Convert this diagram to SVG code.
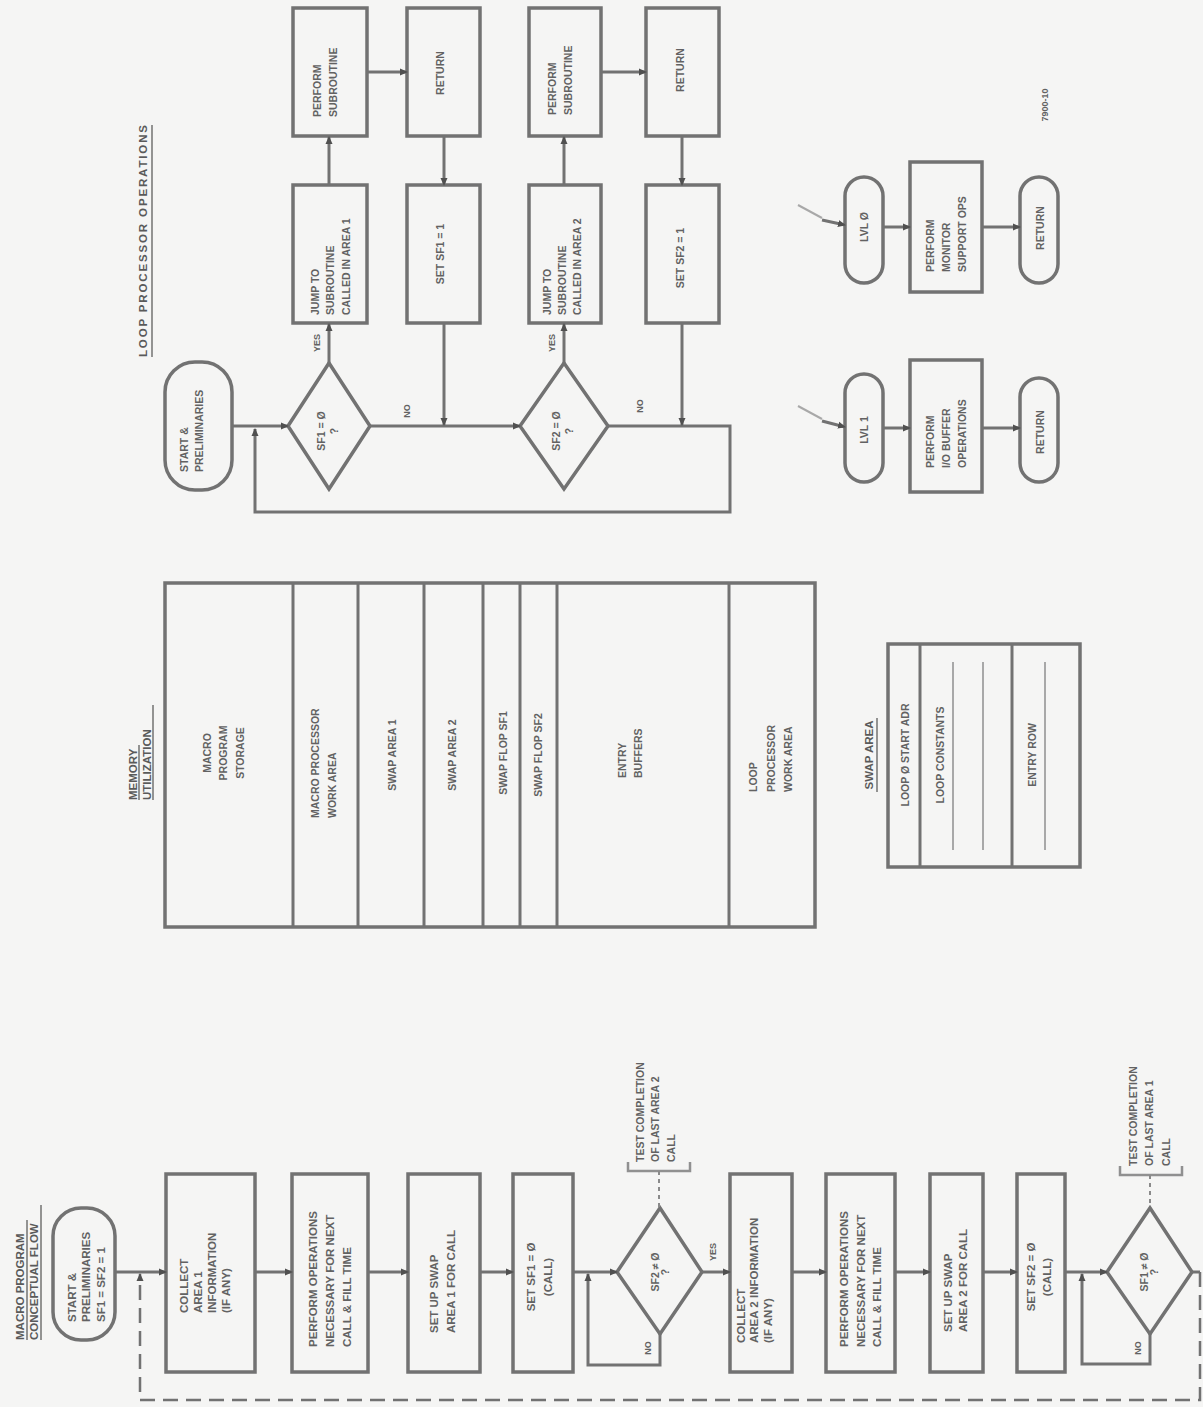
<svg xmlns="http://www.w3.org/2000/svg" width="1203" height="1407" viewBox="0 0 1203 1407">
<defs>
<marker id="ah" markerWidth="8" markerHeight="8" refX="7" refY="4" orient="auto" markerUnits="userSpaceOnUse"><path d="M0,0.5 L8,4 L0,7.5 z" fill="#505050"/></marker>
<style>
.bx{fill:none;stroke:#727272;stroke-width:3.5}
.ln{fill:none;stroke:#727272;stroke-width:3}
.th{fill:none;stroke:#a8a8a8;stroke-width:2}
.ds{fill:none;stroke:#727272;stroke-width:2.5;stroke-dasharray:15 8}
.dt{fill:none;stroke:#8a8a8a;stroke-width:2;stroke-dasharray:4 4}
.t{font-family:"Liberation Sans",Arial,sans-serif;font-size:11.5px;font-weight:bold;fill:#626262}
.s{font-size:10.5px}
.m{text-anchor:middle}
.lb{font-size:9px}
.ti{font-size:11.5px;fill:#5a5a5a}
.ul{stroke:#727272;stroke-width:1.5}
</style>
</defs>
<rect x="0" y="0" width="1203" height="1407" fill="#f5f5f4"/>

<!-- ===== LOOP PROCESSOR OPERATIONS ===== -->
<g id="title-loop">
<text class="t ti" transform="translate(147,357) rotate(-90)" textLength="232">LOOP PROCESSOR OPERATIONS</text>
<line class="ul" x1="152" y1="357" x2="152" y2="125"/>
</g>
<g id="lp-start"><rect class="bx" x="165" y="362" width="67" height="128" rx="30"/>
<text class="t s" transform="translate(187.5,472) rotate(-90)"><tspan x="0" y="0">START &amp;</tspan><tspan x="0" y="15">PRELIMINARIES</tspan></text></g>
<g id="lp-d1"><polygon class="bx" points="288,426 329,363 370,426 329,489"/>
<text class="t s m" transform="translate(325,431) rotate(-90)"><tspan x="0" y="0">SF1 = Ø</tspan><tspan x="0" y="13">?</tspan></text>
<text class="t lb m" transform="translate(320,343) rotate(-90)">YES</text>
<text class="t lb m" transform="translate(410,411) rotate(-90)">NO</text></g>
<g id="lp-jump1"><rect class="bx" x="293" y="185" width="74" height="138"/>
<text class="t s" transform="translate(319,315) rotate(-90)"><tspan x="0" y="0">JUMP TO</tspan><tspan x="0" y="15">SUBROUTINE</tspan><tspan x="0" y="31">CALLED IN AREA 1</tspan></text></g>
<g id="lp-perf1"><rect class="bx" x="293" y="8" width="74" height="128"/>
<text class="t s" transform="translate(321,117) rotate(-90)"><tspan x="0" y="0">PERFORM</tspan><tspan x="0" y="16">SUBROUTINE</tspan></text></g>
<g id="lp-ret1"><rect class="bx" x="407" y="8" width="73" height="128"/>
<text class="t s m" transform="translate(444,73) rotate(-90)">RETURN</text></g>
<g id="lp-set1"><rect class="bx" x="407" y="185" width="73" height="138"/>
<text class="t s m" transform="translate(444,254) rotate(-90)">SET SF1 = 1</text></g>

<g id="lp-d2"><polygon class="bx" points="520,426 564,363 608,426 564,489"/>
<text class="t s m" transform="translate(560,431) rotate(-90)"><tspan x="0" y="0">SF2 = Ø</tspan><tspan x="0" y="13">?</tspan></text>
<text class="t lb m" transform="translate(555,343) rotate(-90)">YES</text>
<text class="t lb m" transform="translate(643,406) rotate(-90)">NO</text></g>
<g id="lp-jump2"><rect class="bx" x="529" y="185" width="72" height="138"/>
<text class="t s" transform="translate(551,315) rotate(-90)"><tspan x="0" y="0">JUMP TO</tspan><tspan x="0" y="15">SUBROUTINE</tspan><tspan x="0" y="30">CALLED IN AREA 2</tspan></text></g>
<g id="lp-perf2"><rect class="bx" x="529" y="8" width="72" height="128"/>
<text class="t s" transform="translate(556,115) rotate(-90)"><tspan x="0" y="0">PERFORM</tspan><tspan x="0" y="16">SUBROUTINE</tspan></text></g>
<g id="lp-ret2"><rect class="bx" x="646" y="8" width="73" height="128"/>
<text class="t s m" transform="translate(684,70) rotate(-90)">RETURN</text></g>
<g id="lp-set2"><rect class="bx" x="646" y="185" width="73" height="138"/>
<text class="t s m" transform="translate(684,258) rotate(-90)">SET SF2 = 1</text></g>

<g id="lvl0"><rect class="bx" x="845" y="177" width="38" height="106" rx="19"/>
<text class="t s m" transform="translate(868,227) rotate(-90)">LVL Ø</text></g>
<g id="monitor"><rect class="bx" x="910" y="162" width="72" height="130"/>
<text class="t s" transform="translate(934,272) rotate(-90)"><tspan x="0" y="0">PERFORM</tspan><tspan x="0" y="16">MONITOR</tspan><tspan x="0" y="32">SUPPORT OPS</tspan></text></g>
<g id="ret-a"><rect class="bx" x="1020" y="177" width="38" height="106" rx="19"/>
<text class="t s m" transform="translate(1044,228) rotate(-90)">RETURN</text></g>
<g id="lvl1"><rect class="bx" x="845" y="374" width="38" height="108" rx="19"/>
<text class="t s m" transform="translate(868,430) rotate(-90)">LVL 1</text></g>
<g id="iobuf"><rect class="bx" x="910" y="360" width="72" height="132"/>
<text class="t s" transform="translate(934,468) rotate(-90)"><tspan x="0" y="0">PERFORM</tspan><tspan x="0" y="16">I/O BUFFER</tspan><tspan x="0" y="32">OPERATIONS</tspan></text></g>
<g id="ret-b"><rect class="bx" x="1020" y="378" width="38" height="104" rx="19"/>
<text class="t s m" transform="translate(1044,432) rotate(-90)">RETURN</text></g>
<g id="ref-no"><text class="t lb m" transform="translate(1048,105) rotate(-90)">7900-10</text></g>

<!-- ===== MEMORY UTILIZATION ===== -->
<g id="title-mem">
<text class="t ti" transform="translate(137,800) rotate(-90)"><tspan x="0" y="0">MEMORY</tspan><tspan x="0" y="14">UTILIZATION</tspan></text>
<line class="ul" x1="139" y1="800" x2="139" y2="745"/>
<line class="ul" x1="153" y1="800" x2="153" y2="705"/>
</g>
<g id="memory">
<rect class="bx" x="165" y="583" width="650" height="344"/>
<line class="ln" x1="293" y1="583" x2="293" y2="927"/>
<line class="ln" x1="358" y1="583" x2="358" y2="927"/>
<line class="ln" x1="424" y1="583" x2="424" y2="927"/>
<line class="ln" x1="483" y1="583" x2="483" y2="927"/>
<line class="ln" x1="520" y1="583" x2="520" y2="927"/>
<line class="ln" x1="557" y1="583" x2="557" y2="927"/>
<line class="ln" x1="729" y1="583" x2="729" y2="927"/>
<text class="t s m" transform="translate(211,753) rotate(-90)"><tspan x="0" y="0">MACRO</tspan><tspan x="0" y="16">PROGRAM</tspan><tspan x="0" y="33">STORAGE</tspan></text>
<text class="t s" transform="translate(319,818) rotate(-90)"><tspan x="0" y="0">MACRO PROCESSOR</tspan><tspan x="0" y="17">WORK AREA</tspan></text>
<text class="t s m" transform="translate(396,755) rotate(-90)">SWAP AREA 1</text>
<text class="t s m" transform="translate(456,755) rotate(-90)">SWAP AREA 2</text>
<text class="t s m" transform="translate(507,753) rotate(-90)">SWAP FLOP SF1</text>
<text class="t s m" transform="translate(542,755) rotate(-90)">SWAP FLOP SF2</text>
<text class="t s" transform="translate(626,778) rotate(-90)"><tspan x="0" y="0">ENTRY</tspan><tspan x="0" y="16">BUFFERS</tspan></text>
<text class="t s" transform="translate(757,792) rotate(-90)"><tspan x="0" y="0">LOOP</tspan><tspan x="0" y="18">PROCESSOR</tspan><tspan x="0" y="35">WORK AREA</tspan></text>
</g>

<g id="title-swap">
<text class="t ti m" transform="translate(873,755) rotate(-90)">SWAP AREA</text>
<line class="ul" x1="877" y1="792" x2="877" y2="718"/>
</g>
<g id="swap-area">
<rect class="bx" x="888" y="644" width="192" height="223"/>
<line class="ln" x1="920" y1="644" x2="920" y2="867"/>
<line class="ln" x1="1012" y1="644" x2="1012" y2="867"/>
<line class="th" x1="953" y1="662" x2="953" y2="850"/>
<line class="th" x1="983" y1="662" x2="983" y2="850"/>
<line class="th" x1="1045" y1="662" x2="1045" y2="850"/>
<text class="t s m" transform="translate(909,755) rotate(-90)">LOOP Ø START ADR</text>
<text class="t s m" transform="translate(944,755) rotate(-90)">LOOP CONSTANTS</text>
<text class="t s m" transform="translate(1036,755) rotate(-90)">ENTRY ROW</text>
</g>

<!-- ===== MACRO PROGRAM CONCEPTUAL FLOW ===== -->
<g id="title-macro">
<text class="t ti" transform="translate(24,1340) rotate(-90)"><tspan x="0" y="0">MACRO PROGRAM</tspan><tspan x="0" y="14">CONCEPTUAL FLOW</tspan></text>
<line class="ul" x1="27" y1="1340" x2="27" y2="1220"/>
<line class="ul" x1="41" y1="1340" x2="41" y2="1205"/>
</g>
<g id="mp-start"><rect class="bx" x="53" y="1208" width="62" height="132" rx="28"/>
<text class="t" transform="translate(75.5,1322) rotate(-90)"><tspan x="0" y="0">START &amp;</tspan><tspan x="0" y="14.5">PRELIMINARIES</tspan><tspan x="0" y="29">SF1 = SF2 = 1</tspan></text></g>
<g id="mp-collect1"><rect class="bx" x="166" y="1174" width="89" height="198"/>
<text class="t" transform="translate(187.5,1313) rotate(-90)"><tspan x="0" y="0">COLLECT</tspan><tspan x="0" y="14">AREA 1</tspan><tspan x="0" y="28">INFORMATION</tspan><tspan x="0" y="42">(IF ANY)</tspan></text></g>
<g id="mp-perform1"><rect class="bx" x="292" y="1174" width="76" height="198"/>
<text class="t" transform="translate(316.5,1347) rotate(-90)"><tspan x="0" y="0">PERFORM OPERATIONS</tspan><tspan x="0" y="17">NECESSARY FOR NEXT</tspan><tspan x="0" y="34">CALL &amp; FILL TIME</tspan></text></g>
<g id="mp-setup1"><rect class="bx" x="408" y="1174" width="72" height="198"/>
<text class="t" transform="translate(437.5,1333) rotate(-90)"><tspan x="0" y="0">SET UP SWAP</tspan><tspan x="0" y="17">AREA 1 FOR CALL</tspan></text></g>
<g id="mp-setsf1"><rect class="bx" x="513" y="1174" width="60" height="198"/>
<text class="t m" transform="translate(534.5,1277) rotate(-90)"><tspan x="0" y="0">SET SF1 = Ø</tspan><tspan x="0" y="17">(CALL)</tspan></text></g>
<g id="mp-d1"><polygon class="bx" points="617,1272 660,1208 702,1272 660,1334"/>
<text class="t s m" transform="translate(659,1272) rotate(-90)"><tspan x="0" y="0">SF2 ≠ Ø</tspan><tspan x="0" y="10">?</tspan></text>
<text class="t lb m" transform="translate(716,1252) rotate(-90)">YES</text>
<text class="t lb m" transform="translate(651,1348) rotate(-90)">NO</text></g>
<g id="mp-note2">
<text class="t s" transform="translate(644,1162) rotate(-90)"><tspan x="0" y="0">TEST COMPLETION</tspan><tspan x="0" y="15">OF LAST AREA 2</tspan><tspan x="0" y="31">CALL</tspan></text>
<path class="ln" style="stroke-width:2.5;stroke:#909090" d="M628,1162 V1171 H690 V1162"/></g>
<g id="mp-collect2"><rect class="bx" x="730" y="1174" width="62" height="198"/>
<text class="t" transform="translate(744.5,1343) rotate(-90)"><tspan x="0" y="0">COLLECT</tspan><tspan x="0" y="13.5">AREA 2 INFORMATION</tspan><tspan x="0" y="27">(IF ANY)</tspan></text></g>
<g id="mp-perform2"><rect class="bx" x="826" y="1174" width="69" height="198"/>
<text class="t" transform="translate(847.5,1347) rotate(-90)"><tspan x="0" y="0">PERFORM OPERATIONS</tspan><tspan x="0" y="17">NECESSARY FOR NEXT</tspan><tspan x="0" y="33">CALL &amp; FILL TIME</tspan></text></g>
<g id="mp-setup2"><rect class="bx" x="930" y="1174" width="53" height="198"/>
<text class="t" transform="translate(951.5,1332) rotate(-90)"><tspan x="0" y="0">SET UP SWAP</tspan><tspan x="0" y="15">AREA 2 FOR CALL</tspan></text></g>
<g id="mp-setsf2"><rect class="bx" x="1017" y="1174" width="48" height="198"/>
<text class="t m" transform="translate(1034.5,1277) rotate(-90)"><tspan x="0" y="0">SET SF2 = Ø</tspan><tspan x="0" y="16">(CALL)</tspan></text></g>
<g id="mp-d2"><polygon class="bx" points="1107,1272 1150,1208 1192,1272 1150,1334"/>
<text class="t s m" transform="translate(1148,1272) rotate(-90)"><tspan x="0" y="0">SF1 ≠ Ø</tspan><tspan x="0" y="10">?</tspan></text>
<text class="t lb m" transform="translate(1141,1348) rotate(-90)">NO</text></g>
<g id="mp-note1">
<text class="t s" transform="translate(1137,1166) rotate(-90)"><tspan x="0" y="0">TEST COMPLETION</tspan><tspan x="0" y="16">OF LAST AREA 1</tspan><tspan x="0" y="33">CALL</tspan></text>
<path class="ln" style="stroke-width:2.5;stroke:#909090" d="M1120,1166 V1175 H1182 V1166"/></g>

<!-- ===== CONNECTORS ===== -->
<g id="connectors">
<!-- loop processor -->
<line class="ln" x1="232" y1="426" x2="288" y2="426" marker-end="url(#ah)"/>
<path class="ln" d="M608,426 H730 V512 H255 V429" marker-end="url(#ah)"/>
<line class="ln" x1="370" y1="426" x2="520" y2="426" marker-end="url(#ah)"/>
<line class="ln" x1="329" y1="363" x2="329" y2="324" marker-end="url(#ah)"/>
<line class="ln" x1="329" y1="185" x2="329" y2="137" marker-end="url(#ah)"/>
<line class="ln" x1="367" y1="72" x2="407" y2="72" marker-end="url(#ah)"/>
<line class="ln" x1="444" y1="136" x2="444" y2="185" marker-end="url(#ah)"/>
<line class="ln" x1="444" y1="323" x2="444" y2="425" marker-end="url(#ah)"/>
<line class="ln" x1="564" y1="363" x2="564" y2="324" marker-end="url(#ah)"/>
<line class="ln" x1="564" y1="185" x2="564" y2="137" marker-end="url(#ah)"/>
<line class="ln" x1="601" y1="72" x2="646" y2="72" marker-end="url(#ah)"/>
<line class="ln" x1="682" y1="136" x2="682" y2="185" marker-end="url(#ah)"/>
<line class="ln" x1="682" y1="323" x2="682" y2="425" marker-end="url(#ah)"/>
<!-- interrupt handlers -->
<polyline class="th" points="798,205 822,218"/>
<line class="ln" x1="822" y1="220" x2="845" y2="225" marker-end="url(#ah)"/>
<polyline class="th" points="798,406 822,419"/>
<line class="ln" x1="822" y1="421" x2="845" y2="427" marker-end="url(#ah)"/>
<line class="ln" x1="883" y1="227" x2="910" y2="227" marker-end="url(#ah)"/>
<line class="ln" x1="982" y1="227" x2="1020" y2="227" marker-end="url(#ah)"/>
<line class="ln" x1="883" y1="428" x2="910" y2="428" marker-end="url(#ah)"/>
<line class="ln" x1="982" y1="428" x2="1020" y2="428" marker-end="url(#ah)"/>
<!-- macro flow -->
<line class="ln" x1="115" y1="1272" x2="166" y2="1272" marker-end="url(#ah)"/>
<line class="ln" x1="255" y1="1272" x2="292" y2="1272" marker-end="url(#ah)"/>
<line class="ln" x1="368" y1="1272" x2="408" y2="1272" marker-end="url(#ah)"/>
<line class="ln" x1="480" y1="1272" x2="513" y2="1272" marker-end="url(#ah)"/>
<line class="ln" x1="573" y1="1272" x2="617" y2="1272" marker-end="url(#ah)"/>
<line class="ln" x1="702" y1="1272" x2="730" y2="1272" marker-end="url(#ah)"/>
<line class="ln" x1="792" y1="1272" x2="826" y2="1272" marker-end="url(#ah)"/>
<line class="ln" x1="895" y1="1272" x2="930" y2="1272" marker-end="url(#ah)"/>
<line class="ln" x1="983" y1="1272" x2="1017" y2="1272" marker-end="url(#ah)"/>
<line class="ln" x1="1065" y1="1272" x2="1107" y2="1272" marker-end="url(#ah)"/>
<path class="ln" d="M660,1334 V1365 H588 V1274" marker-end="url(#ah)"/>
<path class="ln" d="M1150,1334 V1364 H1082 V1274" marker-end="url(#ah)"/>
<line class="ln" x1="1192" y1="1272" x2="1200" y2="1272"/>
<path class="ds" d="M1200,1272 V1400 H140 V1274" marker-end="url(#ah)"/>
<line class="dt" x1="659" y1="1171" x2="659" y2="1207"/>
<line class="dt" x1="1150" y1="1175" x2="1150" y2="1207"/>
</g>
</svg>
